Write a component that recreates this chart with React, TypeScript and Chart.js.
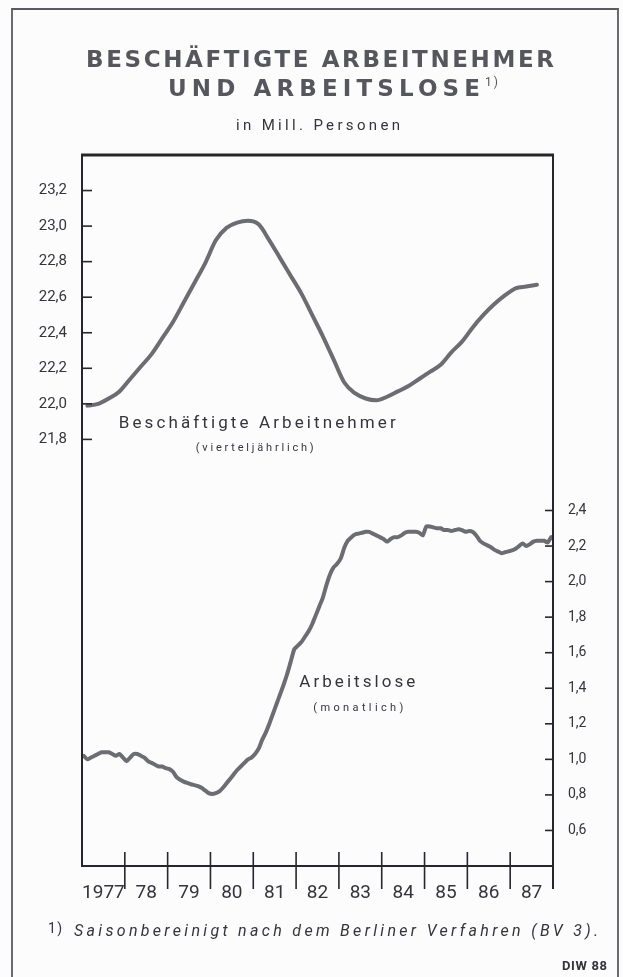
import React, { useEffect, useRef } from "react";
import { Chart, registerables } from "chart.js";

Chart.register(...registerables);

// ---------- DATA ----------
const yearLabels = ["1977", "78", "79", "80", "81", "82", "83", "84", "85", "86", "87"];
const firstYear = 1977;

// Beschäftigte Arbeitnehmer (vierteljährlich), Mill., 1977 Q1 .. 1987 Q3
const employedQuarterly = [
  21.99, 22.0, 22.03, 22.07,
  22.14, 22.21, 22.28, 22.37,
  22.46, 22.57, 22.68, 22.79,
  22.92, 22.99, 23.02, 23.03,
  23.01, 22.92, 22.82, 22.72,
  22.62, 22.5, 22.38, 22.25,
  22.12, 22.06, 22.03, 22.02,
  22.04, 22.07, 22.1, 22.14,
  22.18, 22.22, 22.29, 22.35,
  22.43, 22.5, 22.56, 22.61,
  22.65, 22.66, 22.67,
];

// Arbeitslose (monatlich), Mill., Jan 1977 .. Dec 1987
const unemployed1977 = [1.02, 1.0, 1.01, 1.02, 1.03, 1.04, 1.04, 1.04, 1.03, 1.02, 1.03, 1.01];
const unemployed1978 = [0.99, 1.01, 1.03, 1.03, 1.02, 1.01, 0.99, 0.98, 0.97, 0.96, 0.96, 0.95];
const unemployed1979 = [0.945, 0.93, 0.9, 0.885, 0.875, 0.867, 0.86, 0.855, 0.85, 0.84, 0.825, 0.81];
const unemployed1980 = [0.805, 0.81, 0.82, 0.84, 0.865, 0.89, 0.915, 0.94, 0.96, 0.98, 1.0, 1.01];
const unemployed1981 = [1.03, 1.06, 1.11, 1.15, 1.2, 1.255, 1.31, 1.365, 1.42, 1.48, 1.55, 1.62];
const unemployed1982 = [1.64, 1.66, 1.69, 1.72, 1.76, 1.81, 1.86, 1.91, 1.98, 2.04, 2.08, 2.1];
const unemployed1983 = [2.13, 2.19, 2.23, 2.25, 2.265, 2.27, 2.275, 2.28, 2.28, 2.27, 2.26, 2.25];
const unemployed1984 = [2.24, 2.225, 2.24, 2.25, 2.25, 2.26, 2.275, 2.28, 2.28, 2.28, 2.275, 2.26];
const unemployed1985 = [2.31, 2.31, 2.305, 2.3, 2.3, 2.29, 2.29, 2.285, 2.29, 2.295, 2.29, 2.28];
const unemployed1986 = [2.285, 2.28, 2.26, 2.23, 2.215, 2.205, 2.195, 2.18, 2.17, 2.16, 2.165, 2.17];
const unemployed1987 = [2.175, 2.185, 2.2, 2.215, 2.2, 2.21, 2.225, 2.23, 2.23, 2.23, 2.22, 2.25];

const leftTicks = [21.8, 22.0, 22.2, 22.4, 22.6, 22.8, 23.0, 23.2];
const rightTicks = [0.6, 0.8, 1.0, 1.2, 1.4, 1.6, 1.8, 2.0, 2.2, 2.4];

const titleLine1 = "BESCHÄFTIGTE ARBEITNEHMER";
const titleLine2 = "UND ARBEITSLOSE";
const subtitle = "in Mill. Personen";
const footnote = "Saisonbereinigt nach dem Berliner Verfahren (BV 3).";
const source = "DIW 88";

// ---------- STYLE ----------
const LINE = "#6c6c73";
const INK = "#34343b";
const TITLE_INK = "#56565d";
const FONT = 'Roboto, "DejaVu Sans", sans-serif';
const TITLE_FONT = '"DejaVu Sans", Roboto, sans-serif';

function fmt(v: number) {
  return v.toFixed(1).replace(".", ",");
}

function spaced(
  ctx: CanvasRenderingContext2D,
  text: string,
  left: number,
  cy: number,
  font: string,
  width: number,
  color: string
) {
  ctx.save();
  ctx.font = font;
  (ctx as any).letterSpacing = "0px";
  const w = ctx.measureText(text).width;
  const n = text.length;
  const ls = n > 1 ? (width - w) / (n - 1) : 0;
  (ctx as any).letterSpacing = ls + "px";
  ctx.fillStyle = color;
  ctx.textAlign = "left";
  ctx.textBaseline = "middle";
  ctx.fillText(text, left, cy);
  ctx.restore();
}

const decorPlugin = {
  id: "decor",
  afterDraw(chart: any) {
    const ctx: CanvasRenderingContext2D = chart.ctx;
    const { left, right, top, bottom } = chart.chartArea;
    const xs = chart.scales.x;
    const ys = chart.scales.y;
    const y1 = chart.scales.y1;

    ctx.save();
    ctx.lineCap = "butt";
    // outer frame
    ctx.strokeStyle = "#5a5a62";
    ctx.lineWidth = 1.8;
    ctx.beginPath();
    ctx.moveTo(12, 977);
    ctx.lineTo(12, 9);
    ctx.lineTo(618, 9);
    ctx.lineTo(618, 977);
    ctx.stroke();

    // plot box
    ctx.strokeStyle = "#26262c";
    ctx.lineWidth = 3;
    ctx.beginPath();
    ctx.moveTo(left - 1, top);
    ctx.lineTo(right + 1, top);
    ctx.stroke();
    ctx.lineWidth = 2;
    ctx.beginPath();
    ctx.moveTo(left, top);
    ctx.lineTo(left, bottom);
    ctx.lineTo(right, bottom);
    ctx.stroke();
    ctx.beginPath();
    ctx.moveTo(right, top);
    ctx.lineTo(right, bottom + 23);
    ctx.stroke();

    // inward ticks
    ctx.lineWidth = 1.6;
    leftTicks.forEach((v) => {
      const y = ys.getPixelForValue(v);
      ctx.beginPath();
      ctx.moveTo(left, y);
      ctx.lineTo(left + 10, y);
      ctx.stroke();
    });
    rightTicks.forEach((v) => {
      const y = y1.getPixelForValue(v);
      ctx.beginPath();
      ctx.moveTo(right - 8, y);
      ctx.lineTo(right, y);
      ctx.stroke();
    });
    for (let i = 1; i < yearLabels.length; i++) {
      const x = xs.getPixelForValue(firstYear + i);
      ctx.beginPath();
      ctx.moveTo(x, bottom - 14);
      ctx.lineTo(x, bottom + 23);
      ctx.stroke();
    }
    ctx.restore();

    // titles
    spaced(ctx, titleLine1, 86, 61, `bold 23px ${TITLE_FONT}`, 468, TITLE_INK);
    spaced(ctx, titleLine2, 168, 90, `bold 23px ${TITLE_FONT}`, 312, TITLE_INK);
    spaced(ctx, "1)", 485, 83, `12px ${FONT}`, 13, TITLE_INK);
    spaced(ctx, subtitle, 236, 126, `15px ${FONT}`, 164, INK);

    // series labels (placed in data coordinates)
    const lx = xs.getPixelForValue(1981.08);
    spaced(ctx, "Beschäftigte Arbeitnehmer", lx - 138, ys.getPixelForValue(21.89), `17px ${FONT}`, 277, INK);
    spaced(ctx, "(vierteljährlich)", lx - 61, ys.getPixelForValue(21.75), `11px ${FONT}`, 118, INK);
    const ax = xs.getPixelForValue(1983.43);
    spaced(ctx, "Arbeitslose", ax - 58, y1.getPixelForValue(1.43), `17px ${FONT}`, 116, INK);
    spaced(ctx, "(monatlich)", ax - 44, y1.getPixelForValue(1.29), `11px ${FONT}`, 90, INK);

    // footnote + source
    spaced(ctx, "1)", 48, 929, `14px ${FONT}`, 14, INK);
    spaced(ctx, footnote, 74, 932, `italic 16px ${FONT}`, 524, INK);
    spaced(ctx, source, 562, 967, `bold 13px ${FONT}`, 45, INK);
  },
};

export default function App() {
  const ref = useRef<HTMLCanvasElement | null>(null);

  useEffect(() => {
    if (!ref.current) return;
    const employedPoints = employedQuarterly.map((v, i) => ({ x: firstYear + (i + 0.5) / 4, y: v }));
    const monthly = [
      ...unemployed1977, ...unemployed1978, ...unemployed1979, ...unemployed1980,
      ...unemployed1981, ...unemployed1982, ...unemployed1983, ...unemployed1984,
      ...unemployed1985, ...unemployed1986, ...unemployed1987,
    ];
    const unemployedPoints = monthly.map((v, i) => ({ x: firstYear + (i + 0.5) / 12, y: v }));
    const yearCenters = yearLabels.map((_, i) => firstYear + i + 0.5);

    const chart = new Chart(ref.current, {
      type: "line",
      data: {
        datasets: [
          {
            label: "Beschäftigte Arbeitnehmer",
            data: employedPoints,
            yAxisID: "y",
            borderColor: LINE,
            borderWidth: 4,
            pointRadius: 0,
            cubicInterpolationMode: "monotone",
            borderCapStyle: "round",
            borderJoinStyle: "round",
          },
          {
            label: "Arbeitslose",
            data: unemployedPoints,
            yAxisID: "y1",
            borderColor: LINE,
            borderWidth: 4,
            pointRadius: 0,
            tension: 0.2,
            borderCapStyle: "round",
            borderJoinStyle: "round",
          },
        ],
      },
      options: {
        responsive: false,
        animation: false,
        devicePixelRatio: 1,
        layout: { padding: { top: 155, left: 0, right: 0, bottom: 0 } },
        plugins: { legend: { display: false }, tooltip: { enabled: false }, title: { display: false } },
        scales: {
          x: {
            type: "linear",
            min: firstYear,
            max: firstYear + yearLabels.length,
            position: "bottom",
            grid: { display: false },
            border: { display: false },
            afterBuildTicks: (s: any) => {
              s.ticks = yearCenters.map((v) => ({ value: v }));
            },
            afterFit: (s: any) => {
              s.height = 111;
            },
            ticks: {
              autoSkip: false,
              maxRotation: 0,
              padding: 8,
              color: INK,
              font: { family: FONT, size: 19 },
              callback: (_v: any, i: number) => yearLabels[i],
            },
          },
          y: {
            position: "left",
            min: 19.4,
            max: 23.4,
            grid: { display: false },
            border: { display: false },
            afterBuildTicks: (s: any) => {
              s.ticks = leftTicks.map((v) => ({ value: v }));
            },
            afterFit: (s: any) => {
              s.width = 82;
            },
            ticks: {
              padding: 7,
              color: INK,
              font: { family: FONT, size: 15 },
              callback: (v: any) => fmt(Number(v)),
            },
          },
          y1: {
            position: "right",
            min: 0.4,
            max: 4.4,
            grid: { display: false },
            border: { display: false },
            afterBuildTicks: (s: any) => {
              s.ticks = rightTicks.map((v) => ({ value: v }));
            },
            afterFit: (s: any) => {
              s.width = 70;
            },
            ticks: {
              padding: 7,
              color: INK,
              font: { family: FONT, size: 14 },
              callback: (v: any) => fmt(Number(v)),
            },
          },
        },
      },
      plugins: [decorPlugin],
    });
    return () => chart.destroy();
  }, []);

  return (
    <div style={{ position: "absolute", left: 0, top: 0, width: 623, height: 977, background: "#fcfcfd" }}>
      <canvas ref={ref} width={623} height={977} style={{ display: "block", width: 623, height: 977 }} />
    </div>
  );
}
